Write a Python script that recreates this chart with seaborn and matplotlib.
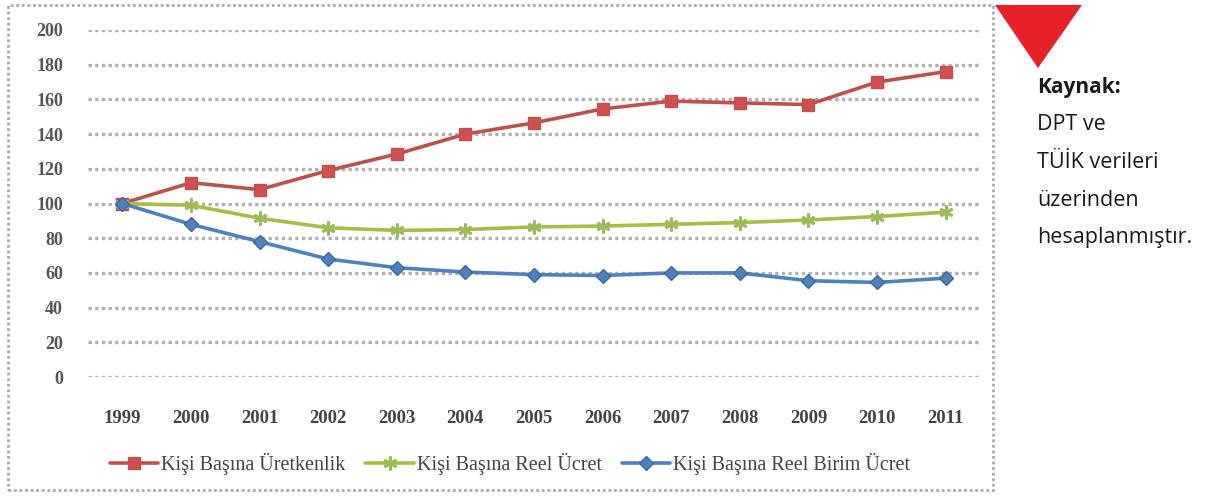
import matplotlib
matplotlib.use("Agg")
import matplotlib.pyplot as plt
from matplotlib.patches import Rectangle, Polygon
import seaborn as sns
import pandas as pd

years = [1999, 2000, 2001, 2002, 2003, 2004, 2005, 2006, 2007, 2008, 2009, 2010, 2011]
uretkenlik = [100, 112, 108, 119, 128.5, 140, 146.5, 154.5, 159, 158, 157, 170, 176]
reel_ucret = [100, 99, 91.5, 86, 84.5, 85, 86.5, 87, 88, 89, 90.5, 92.5, 95]
reel_birim_ucret = [100, 88, 78, 68, 63, 60.5, 59, 58.5, 60, 60, 55.5, 54.5, 57]
series_names = ["Kişi Başına Üretkenlik", "Kişi Başına Reel Ücret", "Kişi Başına Reel Birim Ücret"]
yticks = [0, 20, 40, 60, 80, 100, 120, 140, 160, 180, 200]
source_title = "Kaynak:"
source_lines = ["DPT ve", "TÜİK verileri", "üzerinden", "hesaplanmıştır."]

sns.set_theme(style="white")
plt.rcParams['font.family'] = ['Liberation Serif', 'DejaVu Serif']

W, H = 1221, 496
fig = plt.figure(figsize=(W / 100, H / 100), dpi=100)
ax = fig.add_axes([88 / W, 1 - 377 / H, (980 - 88) / W, (377 - 30) / H])

styles = [
    dict(color="#c0504d", marker="s", markersize=9, mfc="#d0504f", mec="#c0504d"),
    dict(color="#a8bd45", marker=(6, 2, 0), markersize=10, mfc="#9bbb59", mec="#9bbb59", mew=2),
    dict(color="#4f81bd", marker="D", markersize=7, mfc="#4f81bd", mec="#3a6aa5"),
]
for name, vals, st in zip(series_names, [uretkenlik, reel_ucret, reel_birim_ucret], styles):
    df = pd.DataFrame({"Yıl": years, "Değer": vals})
    sns.lineplot(data=df, x="Yıl", y="Değer", ax=ax, label=name, linewidth=2.6,
                 color=st["color"], marker=st["marker"], markersize=st["markersize"],
                 markerfacecolor=st["mfc"], markeredgecolor=st["mec"],
                 markeredgewidth=st.get("mew", 1))

ax.set_xlim(1998.5, 2011.5)
ax.set_ylim(0, 200)
ax.set_yticks(yticks)
ax.set_xticks(years)
ax.set_xlabel("")
ax.set_ylabel("")
for s in ax.spines.values():
    s.set_visible(False)
ax.yaxis.grid(True, color="#b0b0b0", linestyle=(0, (1, 1)), linewidth=2.4)
ax.xaxis.grid(False)
ax.set_axisbelow(True)
ax.tick_params(axis="y", length=0, pad=18, labelsize=13, labelcolor="#555555")
ax.tick_params(axis="x", length=0, pad=24, labelsize=13.5, labelcolor="#444444")
for lab in ax.get_xticklabels() + ax.get_yticklabels():
    lab.set_fontweight("bold")

leg = ax.legend(loc="center", bbox_to_anchor=(510 / W, 1 - 464 / H), bbox_transform=fig.transFigure,
                ncol=3, frameon=False, fontsize=14.5, handlelength=2.4, handletextpad=0.15,
                columnspacing=1.0)
for t in leg.get_texts():
    t.set_color("#444444")

# dotted frame around chart
fig.patches.append(Rectangle((8 / W, 1 - 490 / H), 985 / W, 485 / H, transform=fig.transFigure,
                             fill=False, edgecolor="#aaaaaa", linestyle=(0, (1, 1)), linewidth=2))
# red triangle
fig.patches.append(Polygon([(995 / W, 1 - 5 / H), (1082 / W, 1 - 5 / H), (1038 / W, 1 - 68 / H)],
                           closed=True, transform=fig.transFigure, facecolor="#e8202a", edgecolor="none"))

fig.text(1037 / W, 1 - 87 / H, source_title, fontsize=15, fontweight="bold", family=["Open Sans", "DejaVu Sans"],
         color="#1a1a1a", va="center", ha="left")
for i, line in enumerate(source_lines):
    fig.text(1037 / W, 1 - (124 + 38 * i) / H, line, fontsize=15.5, family=["Open Sans", "DejaVu Sans"],
             color="#1a1a1a", va="center", ha="left")

fig.savefig("out.png", dpi=100)
